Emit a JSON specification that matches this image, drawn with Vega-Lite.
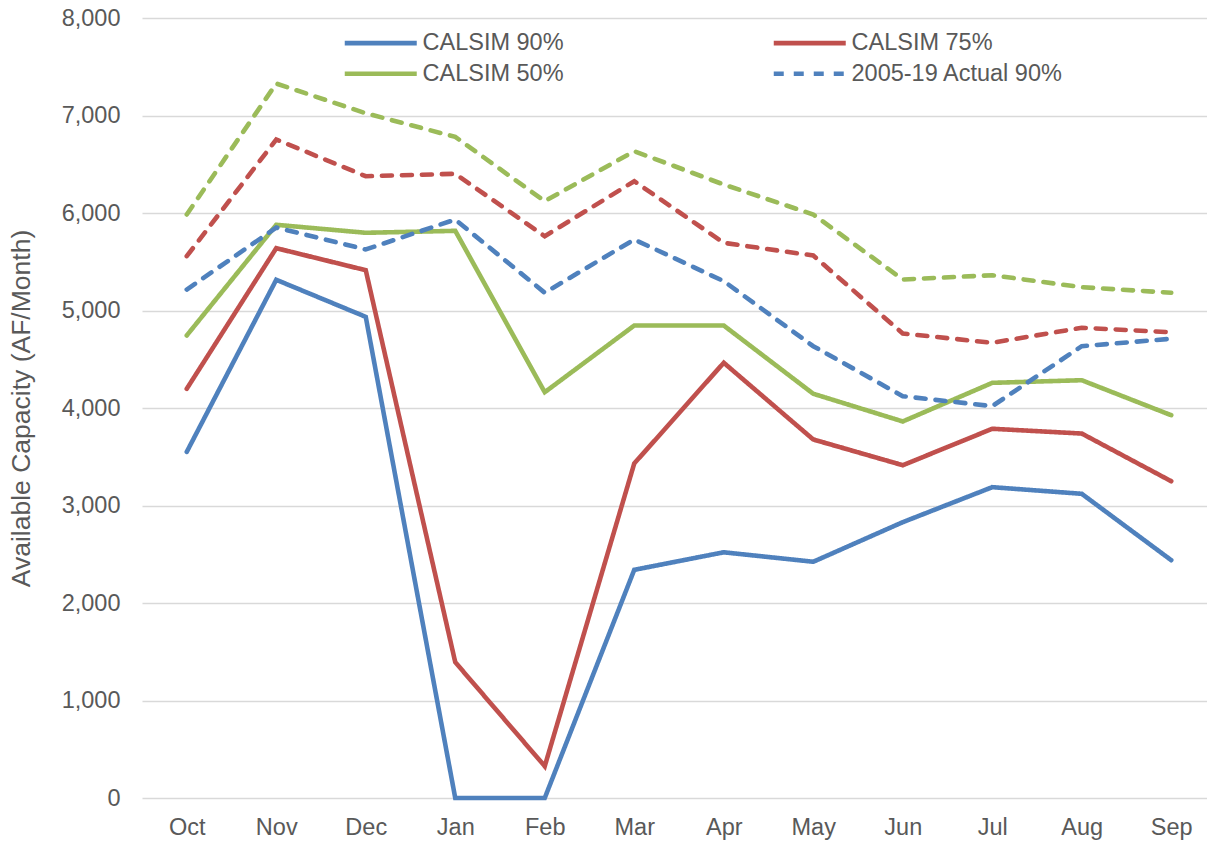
{
  "$schema": "https://vega.github.io/schema/vega-lite/v6.json",
  "width": 1074,
  "height": 780,
  "autosize": "none",
  "padding": {"left": 142, "top": 18, "right": 0, "bottom": 44},
  "background": "white",
  "config": {
    "view": {"stroke": null},
    "font": "Liberation Sans"
  },
  "data": {
    "values": [
      {"month": "Oct", "series": "CALSIM 90%", "value": 3550},
      {"month": "Nov", "series": "CALSIM 90%", "value": 5315},
      {"month": "Dec", "series": "CALSIM 90%", "value": 4935},
      {"month": "Jan", "series": "CALSIM 90%", "value": 0},
      {"month": "Feb", "series": "CALSIM 90%", "value": 0},
      {"month": "Mar", "series": "CALSIM 90%", "value": 2340},
      {"month": "Apr", "series": "CALSIM 90%", "value": 2520},
      {"month": "May", "series": "CALSIM 90%", "value": 2423},
      {"month": "Jun", "series": "CALSIM 90%", "value": 2829},
      {"month": "Jul", "series": "CALSIM 90%", "value": 3188},
      {"month": "Aug", "series": "CALSIM 90%", "value": 3120},
      {"month": "Sep", "series": "CALSIM 90%", "value": 2439},
      {"month": "Oct", "series": "CALSIM 75%", "value": 4197},
      {"month": "Nov", "series": "CALSIM 75%", "value": 5639},
      {"month": "Dec", "series": "CALSIM 75%", "value": 5413},
      {"month": "Jan", "series": "CALSIM 75%", "value": 1393},
      {"month": "Feb", "series": "CALSIM 75%", "value": 326},
      {"month": "Mar", "series": "CALSIM 75%", "value": 3431},
      {"month": "Apr", "series": "CALSIM 75%", "value": 4464},
      {"month": "May", "series": "CALSIM 75%", "value": 3677},
      {"month": "Jun", "series": "CALSIM 75%", "value": 3413},
      {"month": "Jul", "series": "CALSIM 75%", "value": 3787},
      {"month": "Aug", "series": "CALSIM 75%", "value": 3738},
      {"month": "Sep", "series": "CALSIM 75%", "value": 3249},
      {"month": "Oct", "series": "CALSIM 50%", "value": 4744},
      {"month": "Nov", "series": "CALSIM 50%", "value": 5879},
      {"month": "Dec", "series": "CALSIM 50%", "value": 5797},
      {"month": "Jan", "series": "CALSIM 50%", "value": 5817},
      {"month": "Feb", "series": "CALSIM 50%", "value": 4162},
      {"month": "Mar", "series": "CALSIM 50%", "value": 4846},
      {"month": "Apr", "series": "CALSIM 50%", "value": 4846},
      {"month": "May", "series": "CALSIM 50%", "value": 4146},
      {"month": "Jun", "series": "CALSIM 50%", "value": 3862},
      {"month": "Jul", "series": "CALSIM 50%", "value": 4258},
      {"month": "Aug", "series": "CALSIM 50%", "value": 4285},
      {"month": "Sep", "series": "CALSIM 50%", "value": 3926},
      {"month": "Oct", "series": "2005-19 Actual 90%", "value": 5215},
      {"month": "Nov", "series": "2005-19 Actual 90%", "value": 5851},
      {"month": "Dec", "series": "2005-19 Actual 90%", "value": 5626},
      {"month": "Jan", "series": "2005-19 Actual 90%", "value": 5933},
      {"month": "Feb", "series": "2005-19 Actual 90%", "value": 5182},
      {"month": "Mar", "series": "2005-19 Actual 90%", "value": 5728},
      {"month": "Apr", "series": "2005-19 Actual 90%", "value": 5301},
      {"month": "May", "series": "2005-19 Actual 90%", "value": 4634},
      {"month": "Jun", "series": "2005-19 Actual 90%", "value": 4121},
      {"month": "Jul", "series": "2005-19 Actual 90%", "value": 4019},
      {"month": "Aug", "series": "2005-19 Actual 90%", "value": 4634},
      {"month": "Sep", "series": "2005-19 Actual 90%", "value": 4710},
      {"month": "Oct", "series": "2005-19 Actual 75%", "value": 5557},
      {"month": "Nov", "series": "2005-19 Actual 75%", "value": 6754},
      {"month": "Dec", "series": "2005-19 Actual 75%", "value": 6377},
      {"month": "Jan", "series": "2005-19 Actual 75%", "value": 6402},
      {"month": "Feb", "series": "2005-19 Actual 75%", "value": 5762},
      {"month": "Mar", "series": "2005-19 Actual 75%", "value": 6326},
      {"month": "Apr", "series": "2005-19 Actual 75%", "value": 5694},
      {"month": "May", "series": "2005-19 Actual 75%", "value": 5564},
      {"month": "Jun", "series": "2005-19 Actual 75%", "value": 4764},
      {"month": "Jul", "series": "2005-19 Actual 75%", "value": 4669},
      {"month": "Aug", "series": "2005-19 Actual 75%", "value": 4823},
      {"month": "Sep", "series": "2005-19 Actual 75%", "value": 4777},
      {"month": "Oct", "series": "2005-19 Actual 50%", "value": 5985},
      {"month": "Nov", "series": "2005-19 Actual 50%", "value": 7328},
      {"month": "Dec", "series": "2005-19 Actual 50%", "value": 7023},
      {"month": "Jan", "series": "2005-19 Actual 50%", "value": 6781},
      {"month": "Feb", "series": "2005-19 Actual 50%", "value": 6121},
      {"month": "Mar", "series": "2005-19 Actual 50%", "value": 6634},
      {"month": "Apr", "series": "2005-19 Actual 50%", "value": 6292},
      {"month": "May", "series": "2005-19 Actual 50%", "value": 5985},
      {"month": "Jun", "series": "2005-19 Actual 50%", "value": 5318},
      {"month": "Jul", "series": "2005-19 Actual 50%", "value": 5362},
      {"month": "Aug", "series": "2005-19 Actual 50%", "value": 5239},
      {"month": "Sep", "series": "2005-19 Actual 50%", "value": 5182}
    ]
  },
  "mark": {"type": "line", "strokeWidth": 4.6, "strokeCap": "round", "strokeJoin": "miter"},
  "encoding": {
    "x": {
      "field": "month",
      "type": "ordinal",
      "sort": ["Oct", "Nov", "Dec", "Jan", "Feb", "Mar", "Apr", "May", "Jun", "Jul", "Aug", "Sep"],
      "scale": {"type": "point", "padding": 0.5},
      "axis": {
        "title": null,
        "labelAngle": 0,
        "ticks": false,
        "domain": false,
        "grid": false,
        "labelFont": "Liberation Sans",
        "labelFontSize": 23.5,
        "labelColor": "#595959",
        "labelPadding": 17
      }
    },
    "y": {
      "field": "value",
      "type": "quantitative",
      "scale": {"domain": [0, 8000], "nice": false},
      "axis": {
        "title": "Available Capacity (AF/Month)",
        "titleFont": "Liberation Sans",
        "titleFontSize": 26.5,
        "titleFontWeight": "normal",
        "titleColor": "#595959",
        "titlePadding": 26,
        "values": [0, 1000, 2000, 3000, 4000, 5000, 6000, 7000, 8000],
        "format": ",.0f",
        "ticks": false,
        "domain": false,
        "grid": true,
        "gridColor": "#D9D9D9",
        "gridWidth": 1.5,
        "labelFont": "Liberation Sans",
        "labelFontSize": 23.5,
        "labelColor": "#595959",
        "labelPadding": 22
      }
    },
    "color": {
      "field": "series",
      "type": "nominal",
      "scale": {
        "domain": ["CALSIM 90%", "CALSIM 75%", "CALSIM 50%", "2005-19 Actual 90%", "2005-19 Actual 75%", "2005-19 Actual 50%"],
        "range": ["#4F81BD", "#C0504D", "#9BBB59", "#4F81BD", "#C0504D", "#9BBB59"]
      },
      "legend": {
        "title": null,
        "orient": "none",
        "legendX": 227,
        "legendY": 13,
        "direction": "horizontal",
        "columns": 2,
        "columnPadding": 200,
        "rowPadding": 6,
        "values": ["CALSIM 90%", "CALSIM 75%", "CALSIM 50%", "2005-19 Actual 90%"],
        "symbolType": "M-4,0H4",
        "symbolSize": 324,
        "symbolStrokeWidth": 4.6,
        "labelFont": "Liberation Sans",
        "labelFontSize": 23.5,
        "labelColor": "#595959",
        "labelOffset": 30,
        "labelLimit": 400
      }
    },
    "strokeDash": {
      "field": "series",
      "type": "nominal",
      "scale": {
        "domain": ["CALSIM 90%", "CALSIM 75%", "CALSIM 50%", "2005-19 Actual 90%", "2005-19 Actual 75%", "2005-19 Actual 50%"],
        "range": [[1, 0], [1, 0], [1, 0], [10, 10], [10, 10], [10, 10]]
      },
      "legend": {
        "title": null,
        "orient": "none",
        "legendX": 227,
        "legendY": 13,
        "direction": "horizontal",
        "columns": 2,
        "columnPadding": 200,
        "rowPadding": 6,
        "values": ["CALSIM 90%", "CALSIM 75%", "CALSIM 50%", "2005-19 Actual 90%"],
        "symbolType": "M-4,0H4",
        "symbolSize": 324,
        "symbolStrokeWidth": 4.6,
        "labelFont": "Liberation Sans",
        "labelFontSize": 23.5,
        "labelColor": "#595959",
        "labelOffset": 30,
        "labelLimit": 400
      }
    }
  }
}
